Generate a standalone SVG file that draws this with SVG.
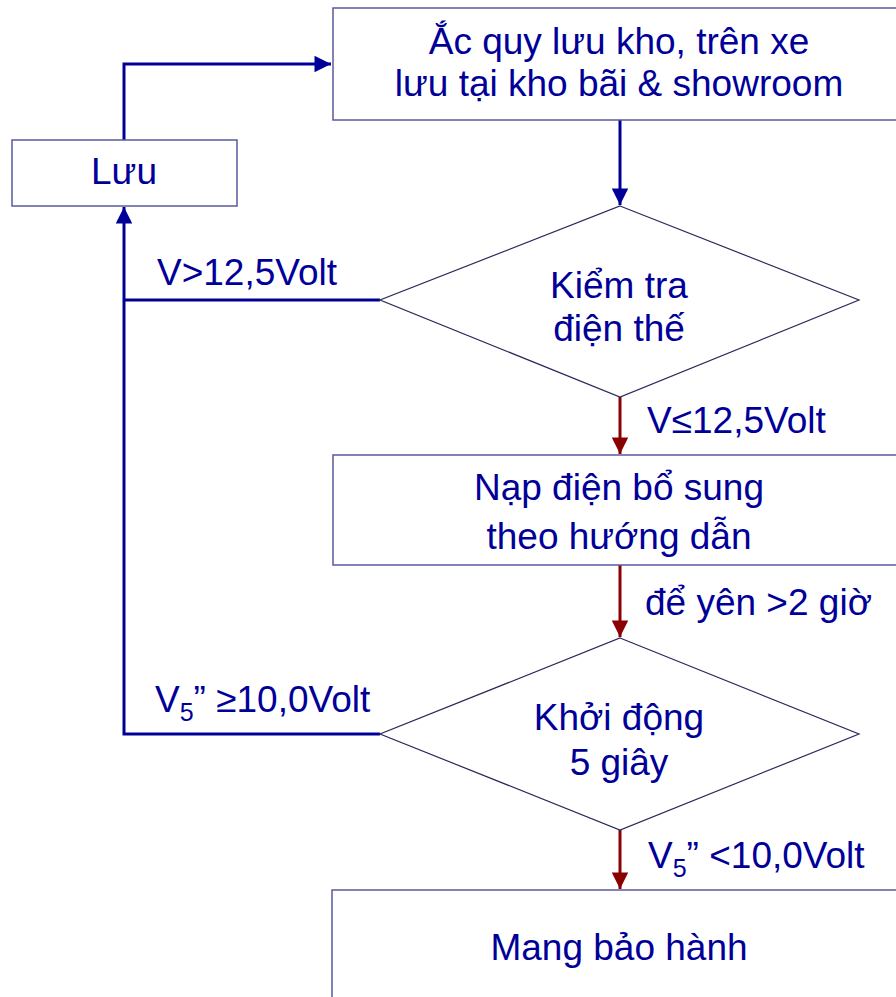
<svg xmlns="http://www.w3.org/2000/svg" width="896" height="997" viewBox="0 0 896 997">
<style>
text{font-family:"Liberation Sans",Arial,sans-serif;font-size:37px;fill:#000099}
.c{text-anchor:middle}
.box{fill:#fff;stroke:#5a5a9e;stroke-width:1.5}
.dia{fill:#fff;stroke:#2a2a5a;stroke-width:1.2}
.bl{fill:none;stroke:#000099;stroke-width:3}
.rd{fill:none;stroke:#8b0000;stroke-width:3}
.sub{font-size:25px}
</style>
<defs>
<marker id="ab" viewBox="0 0 10 10" refX="10" refY="5" markerWidth="5.7" markerHeight="5.5" orient="auto" markerUnits="strokeWidth"><path d="M0,0L10,5L0,10z" fill="#000099"/></marker>
<marker id="ar" viewBox="0 0 10 10" refX="10" refY="5" markerWidth="5.7" markerHeight="5.5" orient="auto" markerUnits="strokeWidth"><path d="M0,0L10,5L0,10z" fill="#8b0000"/></marker>
</defs>
<rect width="896" height="997" fill="#fff"/>
<g id="connectors">
<path class="bl" d="M124,140V64H331" marker-end="url(#ab)"/>
<path class="bl" d="M620,120V205" marker-end="url(#ab)"/>
<path class="bl" d="M380,734H124V207" marker-end="url(#ab)"/>
<path class="bl" d="M380,300H124"/>
<path class="rd" d="M620,397V454" marker-end="url(#ar)"/>
<path class="rd" d="M620,565V637" marker-end="url(#ar)"/>
<path class="rd" d="M620,830V889" marker-end="url(#ar)"/>
<text x="157" y="285">V&gt;12,5Volt</text>
<text x="647" y="433">V≤12,5Volt</text>
<text x="645" y="615">để yên &gt;2 giờ</text>
<text x="155" y="712">V<tspan class="sub" dy="9">5</tspan><tspan dy="-9">” ≥10,0Volt</tspan></text>
<text x="648" y="868">V<tspan class="sub" dy="9">5</tspan><tspan dy="-9">” &lt;10,0Volt</tspan></text>
</g>
<g id="n_store">
<rect class="box" x="333" y="8" width="580" height="112"/>
<text class="c" x="619" y="54">Ắc quy lưu kho, trên xe</text>
<text class="c" x="619" y="96">lưu tại kho bãi &amp; showroom</text>
</g>
<g id="n_luu">
<rect class="box" x="12" y="140" width="225" height="66"/>
<text class="c" x="124" y="184">Lưu</text>
</g>
<g id="n_check">
<polygon class="dia" points="620,206 859,300 620,397 380,300"/>
<text class="c" x="619" y="298">Kiểm tra</text>
<text class="c" x="619" y="341">điện thế</text>
</g>
<g id="n_charge">
<rect class="box" x="333" y="455" width="580" height="110"/>
<text class="c" x="619" y="500">Nạp điện bổ sung</text>
<text class="c" x="619" y="549">theo hướng dẫn</text>
</g>
<g id="n_start">
<polygon class="dia" points="620,638 859,734 620,830 380,734"/>
<text class="c" x="619" y="730">Khởi động</text>
<text class="c" x="619" y="775">5 giây</text>
</g>
<g id="n_warranty">
<rect class="box" x="332" y="890" width="580" height="120"/>
<text class="c" x="619" y="960">Mang bảo hành</text>
</g>
</svg>
